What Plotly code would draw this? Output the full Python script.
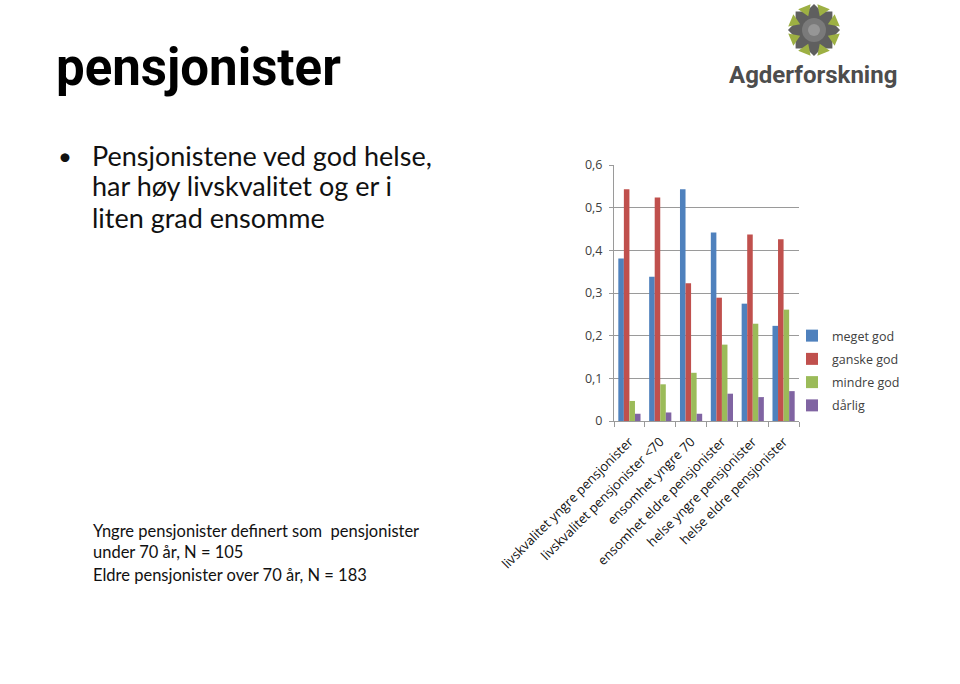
import math
import plotly.graph_objects as go

W, H = 960, 684

categories = [
    "livskvalitet yngre pensjonister",
    "livskvalitet pensjonister <70",
    "ensomhet yngre 70",
    "ensomhet eldre pensjonister",
    "helse yngre pensjonister",
    "helse eldre pensjonister",
]
series_names = ["meget god", "ganske god", "mindre god", "dårlig"]
meget_god = [0.381, 0.338, 0.543, 0.442, 0.275, 0.223]
ganske_god = [0.543, 0.524, 0.323, 0.289, 0.437, 0.426]
mindre_god = [0.047, 0.086, 0.113, 0.179, 0.228, 0.261]
darlig = [0.017, 0.020, 0.017, 0.064, 0.056, 0.070]
series_values = [meget_god, ganske_god, mindre_god, darlig]
colors = ["#4F81BD", "#C0504D", "#9BBB59", "#8064A2"]
y_ticks = [0, 0.1, 0.2, 0.3, 0.4, 0.5, 0.6]


def px(x):
    return x / W


def py(y):
    return 1 - y / H


fig = go.Figure()
for name, vals, col in zip(series_names, series_values, colors):
    fig.add_trace(go.Bar(x=categories, y=vals, name=name, marker_color=col,
                         marker_line_width=0, legendgroup=name))

grid = "#9a9a9a"
fig.update_layout(
    width=W, height=H,
    margin=dict(l=0, r=0, t=0, b=0, autoexpand=False),
    paper_bgcolor="white", plot_bgcolor="white",
    barmode="group", bargap=0.28, bargroupgap=0,
    separators=", ",
    font=dict(family="Open Sans", color="#404040"),
    xaxis=dict(domain=[px(614), px(799)], type="category", automargin=False,
               tickson="boundaries", ticks="outside", ticklen=5,
               tickcolor=grid, showline=True, linecolor=grid,
               tickangle=-45, tickfont=dict(size=13, color="#111111"),
               ticklabelstandoff=7, showgrid=False),
    yaxis=dict(domain=[py(421), py(165)], range=[0, 0.6], automargin=False,
               tickvals=y_ticks, ticks="outside", ticklen=4, tickcolor=grid,
               showline=True, linecolor=grid, showgrid=True, gridcolor=grid,
               gridwidth=1, tickfont=dict(size=12.5, color="#404040"),
               ticklabelstandoff=4, zeroline=False),
    legend=dict(x=px(792), y=py(321), xanchor="left", yanchor="top",
                font=dict(size=12.5, color="#404040"), tracegroupgap=4,
                itemwidth=30, bgcolor="rgba(0,0,0,0)"),
    showlegend=True,
)

annotations = []


def txt(x, y, s, size, family, color="#000000", bold=False):
    if bold:
        s = "<b>" + s + "</b>"
    annotations.append(dict(x=px(x), y=py(y), xref="paper", yref="paper",
                            xanchor="left", yanchor="middle", align="left",
                            text=s, showarrow=False,
                            font=dict(size=size, family=family, color=color)))


txt(54, 67, "pensjonister", 51, "Roboto", bold=True)
txt(56, 155, "•", 24, "Lato", color="#111111")
txt(90, 155, "Pensjonistene ved god helse,", 27, "Lato", color="#111111")
txt(90, 186, "har høy livskvalitet og er i", 27, "Lato", color="#111111")
txt(90, 217, "liten grad ensomme", 27, "Lato", color="#111111")
txt(91, 541, "Yngre pensjonister definert som  pensjonister<br>under 70 år, N = 105",
    16.5, "Lato", color="#111111")
txt(91, 575, "Eldre pensjonister over 70 år, N = 183", 16.5, "Lato", color="#111111")
txt(727, 75, "Agderforskning", 24, "Roboto", color="#4d4d4d", bold=True)

fig.update_layout(annotations=annotations)

# logo star
cx, cy = 814, 30
shapes = []
pts = []
for k in range(16):
    ang = math.radians(90 + k * 22.5)
    r = 26 if k % 2 == 0 else 20
    pts.append((cx + r * math.cos(ang), cy - r * math.sin(ang)))
path = "M " + " L ".join(f"{px(a):.5f},{py(b):.5f}" for a, b in pts) + " Z"
shapes.append(dict(type="path", path=path, xref="paper", yref="paper",
                   fillcolor="#5f5f5f", line=dict(width=0)))
shapes.append(dict(type="circle", xref="paper", yref="paper",
                   x0=px(cx - 12), x1=px(cx + 12), y0=py(cy + 12), y1=py(cy - 12),
                   fillcolor="#7a7a7a", line=dict(width=0)))
shapes.append(dict(type="circle", xref="paper", yref="paper",
                   x0=px(cx - 6), x1=px(cx + 6), y0=py(cy + 6), y1=py(cy - 6),
                   fillcolor="#969696", line=dict(width=0)))
for k in range(8):
    th = math.radians(22.5 + k * 45)
    p1 = (cx + 26 * math.cos(th - math.radians(15)), cy - 26 * math.sin(th - math.radians(15)))
    p2 = (cx + 26 * math.cos(th + math.radians(15)), cy - 26 * math.sin(th + math.radians(15)))
    p3 = (cx + 15 * math.cos(th), cy - 15 * math.sin(th))
    path = "M " + " L ".join(f"{px(a):.5f},{py(b):.5f}" for a, b in (p1, p2, p3)) + " Z"
    shapes.append(dict(type="path", path=path, xref="paper", yref="paper",
                       fillcolor="#9db043", line=dict(width=0)))
fig.update_layout(shapes=shapes)

fig.write_html("out.html")
